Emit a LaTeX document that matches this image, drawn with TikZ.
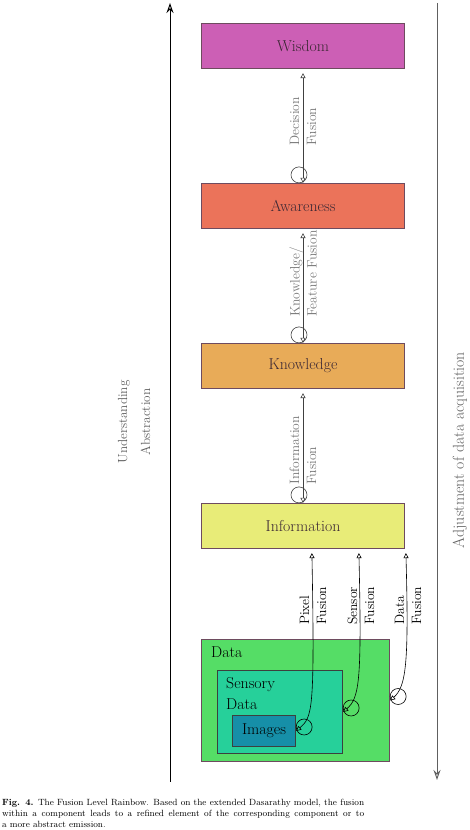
\documentclass[tikz,border=0pt]{standalone}
\usepackage{xcolor}
\usepackage{tikz}
\usetikzlibrary{arrows.meta, positioning}
\definecolor{colsabiduria}{RGB}{204,95,181}
\definecolor{colconciencia}{RGB}{235,115,90}
\definecolor{colconocimiento}{RGB}{232,171,88}
\definecolor{colinformacion}{RGB}{232,236,120}
\definecolor{coldatos}{RGB}{85,221,102}
\definecolor{colsensor}{RGB}{38,208,154}
\definecolor{colimagen}{RGB}{22,143,168}
\definecolor{borde}{RGB}{110,75,95}
\definecolor{bordesensor}{RGB}{60,64,62}
\definecolor{textonivel}{RGB}{60,40,52}
\definecolor{gris}{RGB}{120,120,120}

\begin{document}
\begin{tikzpicture}[x=1pt, y=1pt,
    nivel/.style={draw=borde, line width=1.2pt, minimum width=203pt, minimum height=45pt,
        text=textonivel, font=\fontsize{15.8}{19}\selectfont},
    caja/.style={draw=borde, line width=1.3pt, inner sep=0pt, font=\fontsize{15.8}{21}\selectfont},
    fusion/.style={line width=0.6pt, {Triangle[open,length=5pt,width=5pt]}-{Triangle[open,length=5pt,width=5pt]}},
    lazo/.style={line width=0.6pt},
    etiqueta/.style={rotate=90, anchor=west, align=left, inner sep=0pt, font=\fontsize{13.6}{17}\selectfont},
    eje/.style={line width=1pt, -{Stealth[open,length=10pt,width=7pt]}}]
    \useasboundingbox (0,0) rectangle (470,830);

    % Ejes laterales
    \coordinate (ejeabajo) at (170,48);
    \coordinate (ejearriba) at (170,827);
    \coordinate (ajustearriba) at (437,827);
    \coordinate (ajusteabajo) at (437,50);
    \draw[eje] (ejeabajo) -- (ejearriba);
    \draw[eje, draw=gris!80!black] (ajustearriba) -- (ajusteabajo);
    \node[rotate=90, align=center, text=gris!80!black, font=\fontsize{13.2}{23}\selectfont] (comprension) at (134,408) {Understanding\\Abstraction};
    \node[rotate=90, text=gris!80!black, font=\fontsize{15.8}{19}\selectfont] (ajuste) at (460,380) {Adjustment of data acquisition};

    % Niveles de fusion
    \foreach \nombre/\texto/\col/\y in {info/Information/colinformacion/304,
        know/Knowledge/colconocimiento/464, awa/Awareness/colconciencia/624, wis/Wisdom/colsabiduria/784} {
        \node[nivel, fill=\col] (\nombre) at (303,\y) {\texto};
    }

    % Componentes de datos
    \node[caja, fill=coldatos, minimum width=188pt, minimum height=122pt] (data) at (295.5,129.5) {};
    \node[caja, draw=bordesensor, fill=colsensor, minimum width=125pt, minimum height=83pt] (sens) at (280,118) {};
    \node[caja, draw=bordesensor, fill=colimagen, minimum width=63pt, minimum height=31pt] (img) at (264,99) {Images};
    \node[anchor=north west, inner sep=0pt, font=\fontsize{15.8}{21}\selectfont] (tdatos) at (211,183) {Data};
    \node[anchor=north west, align=left, inner sep=0pt, font=\fontsize{15.8}{21}\selectfont] (tsensor) at (226,153) {Sensory\\Data};

    % Flechas entre niveles
    \foreach \de/\a/\etiq/\yb in {info/know/{Information\\Fusion}/345,
        know/awa/{Knowledge/\\Feature Fusion}/513, awa/wis/{Decision\\Fusion}/684} {
        \draw[fusion, draw=black!75] (\de.north) -- ([yshift=-4pt]\a.south);
        \draw[lazo, draw=black!75] ([xshift=-4pt,yshift=8pt]\de.north) circle (8pt);
        \node[etiqueta, text=gris] at (303,\yb) {\etiq};
    }

    % Flechas desde los datos
    \foreach \de/\dx/\h/\xl/\etiq in {img/111/160/313/{Pixel\\Fusion},
        sens/158/130/361/{Sensor\\Fusion}, data/205/110/408/{Data\\Fusion}} {
        \draw[fusion] ([xshift=\dx pt,yshift=-4pt]info.south west) .. controls +(3,-\h) and +(16,14) .. (\de.east);
        \draw[lazo] ([xshift=8pt,yshift=4pt]\de.east) circle (8pt);
        \node[etiqueta] at (\xl,205) {\etiq};
    }

    % Texto debajo de la figura
    \node[anchor=north west, align=left, inner sep=0pt,
        font=\fontsize{9}{11.2}\selectfont] (leyenda) at (2,31)
        {\makebox[362pt][s]{\textbf{Fig. 4.} The Fusion Level Rainbow. Based on the extended Dasarathy model, the fusion}\\
         \makebox[362pt][s]{within a component leads to a refined element of the corresponding component or to}\\
         a more abstract emission.};
\end{tikzpicture}
\end{document}
